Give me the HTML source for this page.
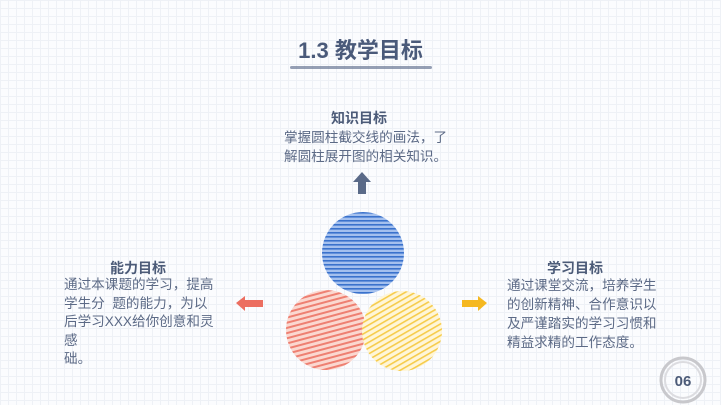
<!DOCTYPE html>
<html><head><meta charset="utf-8"><style>
body{margin:0;width:721px;height:405px;overflow:hidden;position:relative;background-color:#fbfcfe;
background-image:linear-gradient(#eef1f6 1px,transparent 1px),linear-gradient(90deg,#eef1f6 1px,transparent 1px);background-size:8px 8px;
font-family:"Liberation Sans","Noto Sans CJK SC",sans-serif;color:#5a6885}
.a{position:absolute;white-space:nowrap}
.h{font-weight:bold;font-size:14px;color:#4c5b78}
.t{font-size:13.6px;line-height:19px;color:#5c6a86}
</style></head><body>
<div class="a" style="left:0;width:721px;text-align:center;top:33px;font-size:22px;font-weight:bold;color:#4a5a7a">1.3 教学目标</div>
<div class="a" style="left:290px;top:66px;width:142px;height:3px;background:#6a7894;border-radius:2px;opacity:.7"></div>
<div class="a h" style="left:331px;top:108px">知识目标</div>
<div class="a t" style="left:284px;top:128px">掌握圆柱截交线的画法，了<br>解圆柱展开图的相关知识。</div>
<div class="a h" style="left:110px;top:258px">能力目标</div>
<div class="a t" style="left:64px;top:276px;line-height:18.5px">通过本课题的学习，提高<br>学生分&nbsp;&nbsp;题的能力，为以<br>后学习XXX给你创意和灵<br>感<br>础。</div>
<div class="a h" style="left:547px;top:258px">学习目标</div>
<div class="a t" style="left:507px;top:276px">通过课堂交流，培养学生<br>的创新精神、合作意识以<br>及严谨踏实的学习习惯和<br>精益求精的工作态度。</div>
<svg class="a" style="left:0;top:0" width="721" height="405">
<defs>
<pattern id="pb" width="6" height="4" patternUnits="userSpaceOnUse"><rect width="6" height="4" fill="#a4c0ee"/><rect width="6" height="1.6" fill="#3a72cc"/></pattern>
<pattern id="pr" width="5" height="5" patternUnits="userSpaceOnUse" patternTransform="rotate(75)"><rect width="5" height="5" fill="#fbd8d0"/><rect width="2" height="5" fill="#ee8072"/></pattern>
<pattern id="py" width="5" height="5" patternUnits="userSpaceOnUse" patternTransform="rotate(60)"><rect width="5" height="5" fill="#fff6d8"/><rect width="1.6" height="5" fill="#f6cc4c"/></pattern>
</defs>
<circle cx="326" cy="330" r="40" fill="url(#pr)"/>
<circle cx="402" cy="331" r="40" fill="url(#py)"/>
<circle cx="363" cy="253" r="41" fill="url(#pb)"/>
<path d="M362 172 L371 182 L366 182 L366 194 L358 194 L358 182 L353 182Z" fill="#5a6a88"/>
<path d="M236 303 L245 296 L245 300 L263 300 L263 307 L245 307 L245 311Z" fill="#ec6e60"/>
<path d="M487 303 L478 296 L478 300 L462 300 L462 307 L478 307 L478 311Z" fill="#f5b820"/>
<circle cx="683" cy="380" r="22" fill="none" stroke="#c8c8cc" stroke-width="3"/>
<circle cx="683" cy="380" r="18" fill="none" stroke="#dcdce0" stroke-width="2"/>
<text x="683" y="386" text-anchor="middle" font-size="15" font-weight="bold" fill="#4c5b78" font-family="Liberation Sans">06</text>
</svg>
</body></html>
